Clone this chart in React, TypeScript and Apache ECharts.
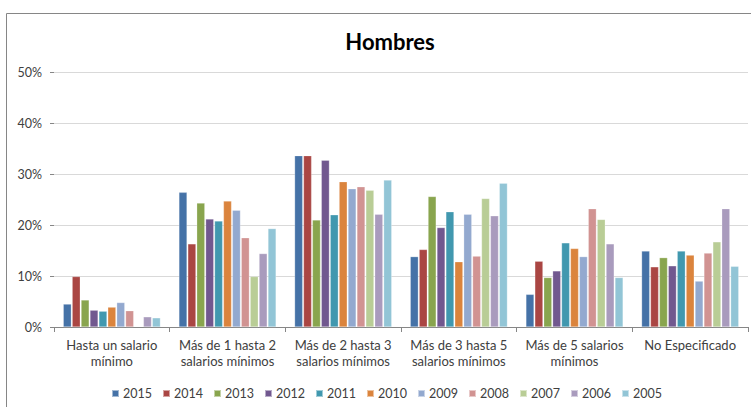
import React, { useEffect, useRef } from "react";
import * as echarts from "echarts";

const categories = [
  "Hasta un salario\nmínimo",
  "Más de 1 hasta 2\nsalarios mínimos",
  "Más de 2 hasta 3\nsalarios mínimos",
  "Más de 3 hasta 5\nsalarios mínimos",
  "Más de 5 salarios\nmínimos",
  "No Especificado",
];

const years = ["2015", "2014", "2013", "2012", "2011", "2010", "2009", "2008", "2007", "2006", "2005"];

const v2015 = [4.5, 26.4, 33.6, 13.8, 6.4, 14.9];
const v2014 = [9.9, 16.3, 33.6, 15.2, 12.9, 11.8];
const v2013 = [5.3, 24.3, 21.0, 25.6, 9.7, 13.6];
const v2012 = [3.3, 21.2, 32.7, 19.5, 11.0, 12.0];
const v2011 = [3.1, 20.8, 22.0, 22.6, 16.5, 14.9];
const v2010 = [3.9, 24.7, 28.5, 12.8, 15.4, 14.1];
const v2009 = [4.8, 22.9, 27.1, 22.1, 13.8, 9.0];
const v2008 = [3.2, 17.5, 27.5, 13.9, 23.2, 14.5];
const v2007 = [null, 9.9, 26.8, 25.2, 21.1, 16.7];
const v2006 = [2.0, 14.4, 22.1, 21.8, 16.3, 23.2];
const v2005 = [1.8, 19.3, 28.8, 28.2, 9.7, 11.9];

const seriesValues = [v2015, v2014, v2013, v2012, v2011, v2010, v2009, v2008, v2007, v2006, v2005];

const colors = [
  "#4572A7", "#AA4643", "#89A54E", "#71588F", "#4198AF", "#DB843D",
  "#93A9CF", "#D19392", "#B9CD96", "#A99BBD", "#92C5D6",
];

const yTicks = [0, 10, 20, 30, 40, 50];

const FONT = "Lato, 'Open Sans', sans-serif";

export default function App() {
  const ref = useRef<HTMLDivElement>(null);
  useEffect(() => {
    if (!ref.current) return;
    const chart = echarts.init(ref.current, null, { renderer: "svg" });
    chart.setOption({
      animation: false,
      color: colors,
      textStyle: { fontFamily: FONT },
      title: {
        text: "Hombres",
        left: 385,
        textAlign: "center",
        top: 25,
        textStyle: { fontFamily: FONT, fontSize: 22, fontWeight: "bold", color: "#000" },
      },
      legend: {
        data: years,
        left: 106,
        top: 382,
        itemWidth: 7,
        itemHeight: 7,
        itemGap: 10,
        icon: "rect",
        textStyle: { fontFamily: FONT, fontSize: 12.5, color: "#404040", padding: [0, 0, 0, -1] },
      },
      grid: { left: 54, right: 3, top: 72, bottom: 80, containLabel: false },
      xAxis: {
        type: "category",
        data: categories,
        axisLine: { lineStyle: { color: "#868686", width: 1 } },
        axisTick: { show: true, length: 5, lineStyle: { color: "#868686" } },
        axisLabel: {
          fontFamily: FONT,
          fontSize: 13,
          color: "#404040",
          lineHeight: 16,
          margin: 10,
          interval: 0,
        },
      },
      yAxis: {
        type: "value",
        min: yTicks[0],
        max: yTicks[yTicks.length - 1],
        interval: 10,
        axisLine: { show: false },
        axisTick: { show: true, length: 4, lineStyle: { color: "#868686" } },
        splitLine: { lineStyle: { color: "#D9D9D9", width: 1 } },
        axisLabel: {
          formatter: "{value}%",
          fontFamily: FONT,
          fontSize: 12.5,
          color: "#404040",
          margin: 12,
        },
      },
      graphic: [
        {
          type: "rect",
          shape: { x: 6.5, y: 13.5, width: 800, height: 500 },
          style: { fill: "none", stroke: "#868686", lineWidth: 1 },
          silent: true,
          z: 100,
        },
      ],
      series: years.map((y, i) => ({
        name: y,
        type: "bar",
        data: seriesValues[i],
        barGap: "10%",
        barCategoryGap: "16%",
        itemStyle: { borderColor: "rgba(255,255,255,0.5)", borderWidth: 0.5 },
      })),
    });
    return () => chart.dispose();
  }, []);
  return (
    <div
      ref={ref}
      style={{ position: "fixed", left: 0, top: 0, width: 751, height: 407, background: "#fff" }}
    />
  );
}
